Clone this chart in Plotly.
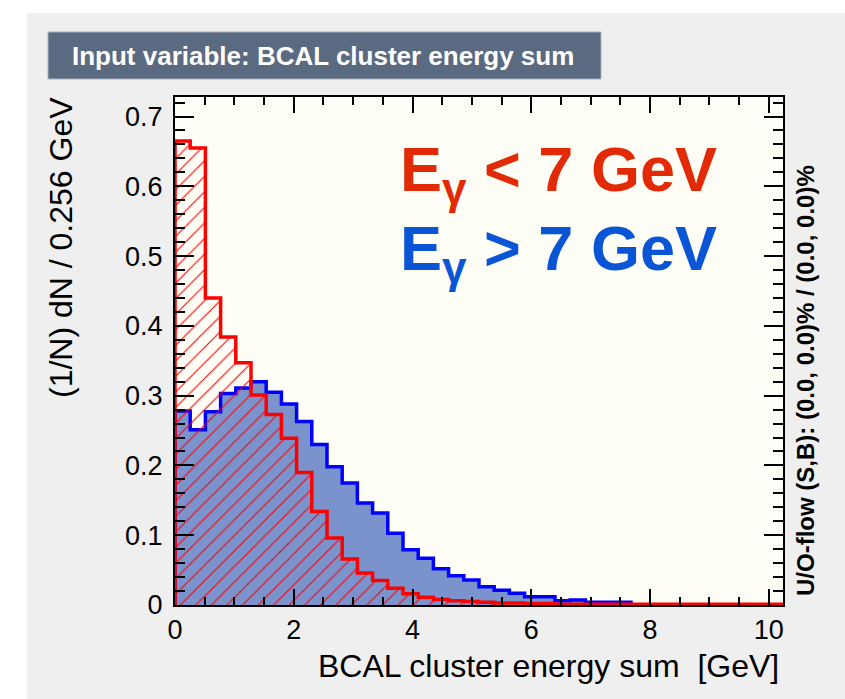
import numpy as np
import plotly.graph_objects as go

# Binning of the input variable (GeV)
bin_width = 0.256
n_bins = 40
edges = np.linspace(0.0, bin_width * n_bins, n_bins + 1)

# Normalised histograms, one value per bin
low_energy = [0.665, 0.655, 0.440, 0.384, 0.347, 0.301, 0.273, 0.239, 0.190, 0.134,
              0.096, 0.066, 0.046, 0.035, 0.024, 0.016, 0.011, 0.008, 0.006, 0.005,
              0.004, 0.003, 0.003, 0.002, 0.002, 0.001, 0.001, 0.001, 0.001, 0.001,
              0.001, 0.001, 0.001, 0.001, 0.001, 0.001, 0.001, 0.001, 0.001, 0.001]
high_energy = [0.278, 0.251, 0.277, 0.303, 0.311, 0.320, 0.305, 0.288, 0.263, 0.230,
               0.198, 0.175, 0.146, 0.132, 0.103, 0.079, 0.067, 0.052, 0.042, 0.036,
               0.026, 0.021, 0.017, 0.012, 0.012, 0.006, 0.007, 0.004, 0.004, 0.004,
               0.0, 0.0, 0.0, 0.0, 0.0, 0.0, 0.0, 0.0, 0.0, 0.0]

x_ticks = [0, 2, 4, 6, 8, 10]
y_ticks = [0, 0.1, 0.2, 0.3, 0.4, 0.5, 0.6, 0.7]

FONT = "Liberation Sans, Arial, Helvetica, sans-serif"


def step_outline(values):
    """Closed step outline (hv) of a histogram, starting and ending on zero."""
    xs = [edges[0]] + list(edges[:-1]) + [edges[-1], edges[-1]]
    ys = [0.0] + list(values) + [values[-1], 0.0]
    return xs, ys


fig = go.Figure()

xs, ys = step_outline(high_energy)
fig.add_trace(go.Scatter(
    x=xs, y=ys, mode="lines", line=dict(shape="hv", color="#0000ff", width=3.5),
    fill="tozeroy", fillcolor="#7a93cd", showlegend=False, hoverinfo="skip"))

xs, ys = step_outline(low_energy)
fig.add_trace(go.Scatter(
    x=xs, y=ys, mode="lines", line=dict(shape="hv", color="#ff0000", width=3.5),
    fill="tozeroy", fillcolor="rgba(0,0,0,0)",
    fillpattern=dict(shape="/", fgcolor="#ff0000", bgcolor="rgba(0,0,0,0)",
                     size=11, solidity=0.1, fillmode="replace"),
    showlegend=False, hoverinfo="skip"))

axis_common = dict(
    showline=True, linecolor="black", linewidth=2, mirror="allticks",
    ticks="inside", tickcolor="black", tickwidth=2,
    showgrid=False, zeroline=False,
    tickfont=dict(family=FONT, size=27, color="black"),
)

fig.update_xaxes(
    range=[0, edges[-1]], tickvals=x_ticks, ticklen=16, ticklabelstandoff=0,
    minor=dict(dtick=0.5, ticklen=8, tickwidth=2, tickcolor="black", ticks="inside"),
    **axis_common)
fig.update_yaxes(
    range=[0, 0.728], tickvals=y_ticks, ticklen=19, ticklabelstandoff=5,
    minor=dict(dtick=0.02, ticklen=10, tickwidth=2, tickcolor="black", ticks="inside"),
    **axis_common)


def px_x(px):
    return (px - 175) / 608


def px_y(py):
    return (605 - py) / 508


shapes = [
    # white page border around the grey canvas
    dict(type="rect", xref="paper", yref="paper", x0=-0.4, x1=1.2,
         y0=px_y(13), y1=1.4, fillcolor="white", line_width=0, layer="below"),
    dict(type="rect", xref="paper", yref="paper", x0=-0.4, x1=px_x(27),
         y0=-0.4, y1=1.4, fillcolor="white", line_width=0, layer="below"),
    # title banner
    dict(type="rect", xref="paper", yref="paper", x0=px_x(48), x1=px_x(601),
         y0=px_y(79), y1=px_y(32), fillcolor="#5a6a80",
         line=dict(color="#a9b3c0", width=1)),
]

annotations = [
    dict(text="<b>Input variable: BCAL cluster energy sum</b>", x=px_x(70), y=px_y(56),
         xref="paper", yref="paper", xanchor="left", yanchor="middle", showarrow=False,
         font=dict(family=FONT, size=26, color="white")),
    dict(text="<b>E<sub>γ</sub> &lt; 7 GeV</b>", x=px_x(398), y=px_y(174),
         xref="paper", yref="paper", xanchor="left", yanchor="middle", showarrow=False,
         font=dict(family=FONT, size=63, color="#e22b06")),
    dict(text="<b>E<sub>γ</sub> &gt; 7 GeV</b>", x=px_x(398), y=px_y(252),
         xref="paper", yref="paper", xanchor="left", yanchor="middle", showarrow=False,
         font=dict(family=FONT, size=63, color="#0a55d6")),
    dict(text="BCAL cluster energy sum  [GeV]", x=px_x(781), y=px_y(666),
         xref="paper", yref="paper", xanchor="right", yanchor="middle", showarrow=False,
         font=dict(family=FONT, size=32, color="black")),
    dict(text="(1/N) dN / 0.256 GeV", x=px_x(61), y=px_y(248), textangle=-90,
         xref="paper", yref="paper", xanchor="center", yanchor="middle", showarrow=False,
         font=dict(family=FONT, size=32, color="black")),
    dict(text="<b>U/O-flow (S,B): (0.0, 0.0)% / (0.0, 0.0)%</b>", x=px_x(805), y=px_y(381),
         textangle=-90, xref="paper", yref="paper", xanchor="center", yanchor="middle",
         showarrow=False, font=dict(family=FONT, size=24, color="black")),
]

fig.update_layout(
    width=845, height=699,
    margin=dict(l=175, r=62, t=97, b=94),
    paper_bgcolor="#efefef", plot_bgcolor="#fefef6",
    shapes=shapes, annotations=annotations,
    showlegend=False,
)

fig.write_html("out.html", config={"displayModeBar": False})
